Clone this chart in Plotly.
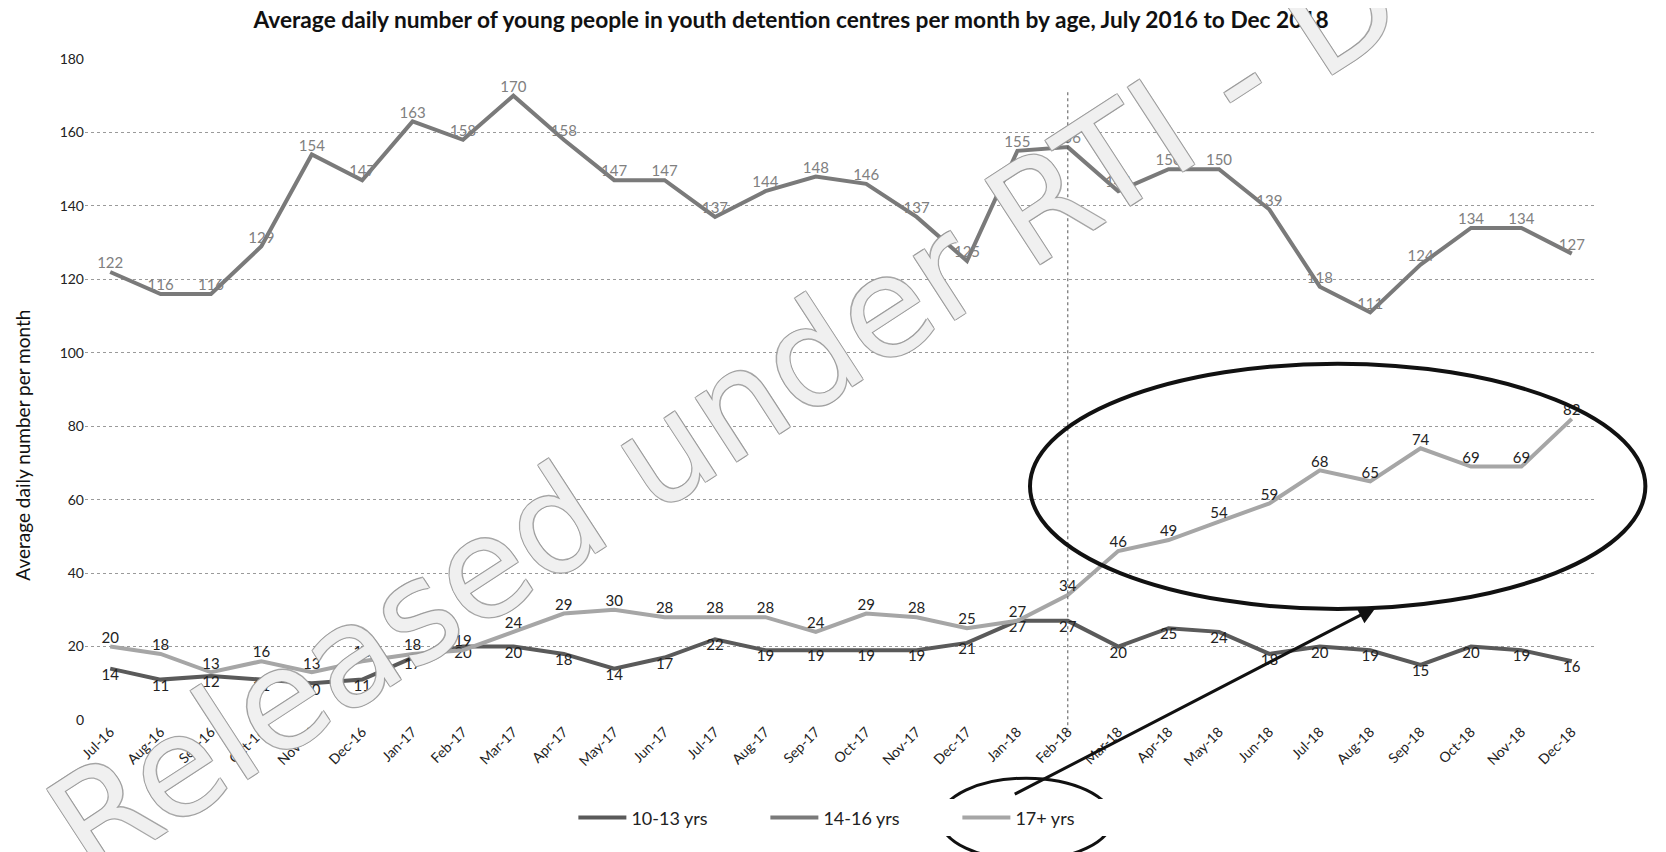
import plotly.graph_objects as go

months = ["Jul-16", "Aug-16", "Sep-16", "Oct-16", "Nov-16", "Dec-16",
          "Jan-17", "Feb-17", "Mar-17", "Apr-17", "May-17", "Jun-17",
          "Jul-17", "Aug-17", "Sep-17", "Oct-17", "Nov-17", "Dec-17",
          "Jan-18", "Feb-18", "Mar-18", "Apr-18", "May-18", "Jun-18",
          "Jul-18", "Aug-18", "Sep-18", "Oct-18", "Nov-18", "Dec-18"]

age_10_13 = [14, 11, 12, 11, 10, 11, 17, 20, 20, 18, 14, 17, 22, 19, 19,
             19, 19, 21, 27, 27, 20, 25, 24, 18, 20, 19, 15, 20, 19, 16]
age_14_16 = [122, 116, 116, 129, 154, 147, 163, 158, 170, 158, 147, 147, 137, 144, 148,
             146, 137, 125, 155, 156, 144, 150, 150, 139, 118, 111, 124, 134, 134, 127]
age_17_plus = [20, 18, 13, 16, 13, 16, 18, 19, 24, 29, 30, 28, 28, 28, 24,
               29, 28, 25, 27, 34, 46, 49, 54, 59, 68, 65, 74, 69, 69, 82]

y_ticks = [0, 20, 40, 60, 80, 100, 120, 140, 160, 180]

FONT = "Lato"

fig = go.Figure()
fig.add_trace(go.Scatter(
    x=months, y=age_10_13, name="10-13 yrs", mode="lines+text",
    line=dict(color="#5a5a5a", width=4),
    text=[str(v) for v in age_10_13], textposition="bottom center",
    textfont=dict(family=FONT, size=15, color="#222"), cliponaxis=False))
fig.add_trace(go.Scatter(
    x=months, y=age_14_16, name="14-16 yrs", mode="lines+text",
    line=dict(color="#7a7a7a", width=4),
    text=[str(v) for v in age_14_16], textposition="top center",
    textfont=dict(family=FONT, size=15, color="#808080"), cliponaxis=False))
fig.add_trace(go.Scatter(
    x=months, y=age_17_plus, name="17+ yrs", mode="lines+text",
    line=dict(color="#a6a6a6", width=4),
    text=[str(v) for v in age_17_plus], textposition="top center",
    textfont=dict(family=FONT, size=15, color="#222"), cliponaxis=False))

fig.update_layout(
    width=1666, height=852,
    margin=dict(l=77, r=77, t=51, b=140),
    paper_bgcolor="white", plot_bgcolor="white",
    font=dict(family=FONT, size=14, color="#222"),
    title=dict(text="<b>Average daily number of young people in youth detention centres per month by age, July 2016 to Dec 2018</b>",
               x=0.467, xref="paper", xanchor="center", y=1 - 12 / 852, yanchor="middle",
               font=dict(family=FONT, size=22.7, color="#111")),
    showlegend=True,
    legend=dict(orientation="h", x=0.323, xanchor="left", y=-0.148, yanchor="middle",
                font=dict(family=FONT, size=18, color="#222"), itemwidth=48,
                entrywidth=129, entrywidthmode="pixels",
                traceorder="normal"),
)
fig.update_xaxes(type="category", range=[-0.5, 29.5], tickangle=-45,
                 showgrid=False, showline=False, ticks="",
                 tickfont=dict(family=FONT, size=14, color="#222"))
fig.update_yaxes(range=[0, 180], tickvals=y_ticks, showgrid=True,
                 gridcolor="#9a9a9a", griddash="dot", gridwidth=1,
                 zeroline=False, showline=False, ticks="",
                 tickfont=dict(family=FONT, size=14, color="#222"))

# y-axis title (placed as in the reference, lower than centre)
fig.add_annotation(x=-0.041, y=0.415, xref="paper", yref="paper",
                   xanchor="center", yanchor="middle",
                   text="Average daily number per month", showarrow=False, textangle=-90,
                   font=dict(family=FONT, size=19, color="#111"))

# hand-drawn markup: vertical marker at Feb-18
fig.add_shape(type="line", xref="x", yref="paper", x0=19, x1=19, y0=-0.017, y1=0.953,
              line=dict(color="#555", width=1, dash="dot"))
# large ellipse around 17+ growth
fig.add_shape(type="circle", xref="paper", yref="paper",
              x0=0.625, x1=1.032, y0=0.168, y1=0.539,
              line=dict(color="#111", width=4))
# circle around legend item
fig.add_shape(type="circle", xref="paper", yref="paper",
              x0=0.566, x1=0.679, y0=-0.212, y1=-0.088,
              line=dict(color="#111", width=3))
# arrow
fig.add_annotation(x=0.854, y=0.171, xref="paper", yref="paper",
                   ax=-363, ay=188, showarrow=True, arrowhead=2, arrowsize=1.2,
                   arrowwidth=3, arrowcolor="#111", text="")
# watermark
fig.add_annotation(x=0.535, y=0.632, xref="paper", yref="paper",
                   text="Released under RTI - DCSYW", showarrow=False, textangle=-33,
                   font=dict(family="DejaVu Sans", size=138, color="rgba(255,255,255,0.85)",
                             shadow="-1px -1px 0 #999, 1px -1px 0 #999, -1px 1px 0 #999, 1px 1px 0 #999"))

fig.write_html("out.html")
